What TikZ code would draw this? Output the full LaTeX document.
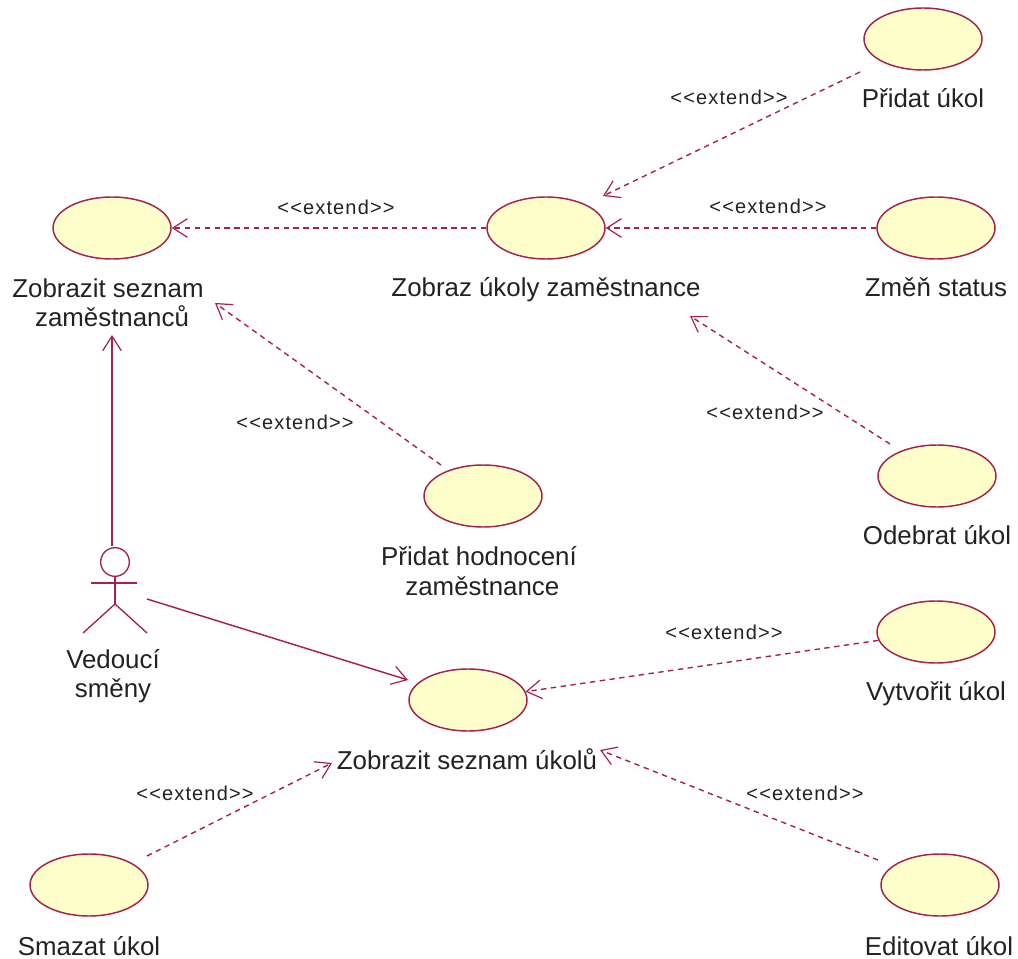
\documentclass[tikz,border=0pt]{standalone}
\usepackage{fontspec}
\setmainfont{Liberation Sans}
\newfontfamily\stereofont[LetterSpace=5.75]{Liberation Sans}
\usetikzlibrary{arrows.meta,shapes.geometric}
\definecolor{umlline}{HTML}{A5224F}
\definecolor{umlfill}{HTML}{FFFFCC}
\definecolor{umltext}{HTML}{222222}
\tikzset{
  x=0.75pt,y=-0.75pt,
  usecase/.style={ellipse,draw=umlline,fill=umlfill,line width=1.1pt,minimum width=88.5pt,minimum height=46.5pt,inner sep=0pt},
  caption/.style={align=center,text=umltext,font=\fontsize{19.4}{22}\selectfont,inner sep=0pt},
  stereo/.style={text=umltext,font=\stereofont\fontsize{15}{17}\selectfont,inner sep=0pt},
  open/.style={-{Straight Barb[length=11pt,width=14pt,line width=0.9pt]}},
  assoc/.style={draw=umlline,line width=1.1pt,open},
  ext/.style={draw=umlline,line width=1.05pt,dash pattern=on 4pt off 3.4pt,open},
  actorline/.style={draw=umlline,line width=1pt}
}
\begin{document}
\begin{tikzpicture}
\useasboundingbox (0,0) rectangle (1018,959);
% use cases
\node[usecase] (a) at (112,228) {};
\node[usecase] (z) at (546,228) {};
\node[usecase] (p) at (923,39) {};
\node[usecase] (m) at (936,228) {};
\node[usecase] (o) at (937,476) {};
\node[usecase] (h) at (483,496) {};
\node[usecase] (s) at (468,700) {};
\node[usecase] (v) at (936,632) {};
\node[usecase] (d) at (89,885) {};
\node[usecase] (e) at (940,885) {};
% captions
\node[caption] (ta) at (108,303) {Zobrazit seznam\\\hspace*{6pt}zaměstnanců};
\node[caption] (tz) at (546,290) {Zobraz úkoly zaměstnance};
\node[caption] (tp) at (923,98) {Přidat úkol};
\node[caption] (tm) at (936,287) {Změň status};
\node[caption] (to) at (937,535) {Odebrat úkol};
\node[caption] (th) at (479,571) {Přidat hodnocení\\\hspace*{5pt}zaměstnance};
\node[caption] (ts) at (467,759) {Zobrazit seznam úkolů};
\node[caption] (tv) at (936,694) {Vytvořit úkol};
\node[caption] (td) at (89,946) {Smazat úkol};
\node[caption] (te) at (939,946) {Editovat úkol};
\node[caption] (tw) at (113,676) {Vedoucí\\směny};
% actor
\node[circle,draw=umlline,fill=white,line width=1pt,minimum size=21.5pt,inner sep=0pt] (head) at (115,562) {};
\coordinate (hip) at (115,604);
\coordinate (armL) at (91,583);
\coordinate (armR) at (137,583);
\coordinate (footL) at (83,633);
\coordinate (footR) at (147,633);
\draw[actorline] (head.south) -- (hip);
\draw[actorline] (armL) -- (armR);
\draw[actorline] (footL) -- (hip) -- (footR);
% free ends
\coordinate (acttop) at (112,546);
\coordinate (actside) at (147,599);
\coordinate (atip) at (112,335);
\coordinate (stip) at (408,680);
\coordinate (ta2) at (215,303);
\coordinate (hs) at (441,465);
\coordinate (ps) at (860,72);
\coordinate (ztip) at (603,196);
\coordinate (os) at (890,444);
\coordinate (ztip2) at (690,316);
\coordinate (ds) at (147,856);
\coordinate (stip2) at (332,763);
\coordinate (es) at (878,860);
\coordinate (stip3) at (600,750);
% connectors
\draw[assoc] (acttop) -- (atip);
\draw[assoc] (actside) -- (stip);
\draw[ext] (z) -- (a);
\draw[ext] (m) -- (z);
\draw[ext] (ps) -- (ztip);
\draw[ext] (os) -- (ztip2);
\draw[ext] (hs) -- (ta2);
\draw[ext] (v) -- (s);
\draw[ext] (ds) -- (stip2);
\draw[ext] (es) -- (stip3);
% stereotypes
\node[stereo] (l1) at (336,207) {<{}<extend>{}>};
\node[stereo] (l2) at (729,97) {<{}<extend>{}>};
\node[stereo] (l3) at (768,206) {<{}<extend>{}>};
\node[stereo] (l4) at (765,412) {<{}<extend>{}>};
\node[stereo] (l5) at (295,422) {<{}<extend>{}>};
\node[stereo] (l6) at (724,632) {<{}<extend>{}>};
\node[stereo] (l7) at (195,793) {<{}<extend>{}>};
\node[stereo] (l8) at (805,793) {<{}<extend>{}>};
\end{tikzpicture}
\end{document}
